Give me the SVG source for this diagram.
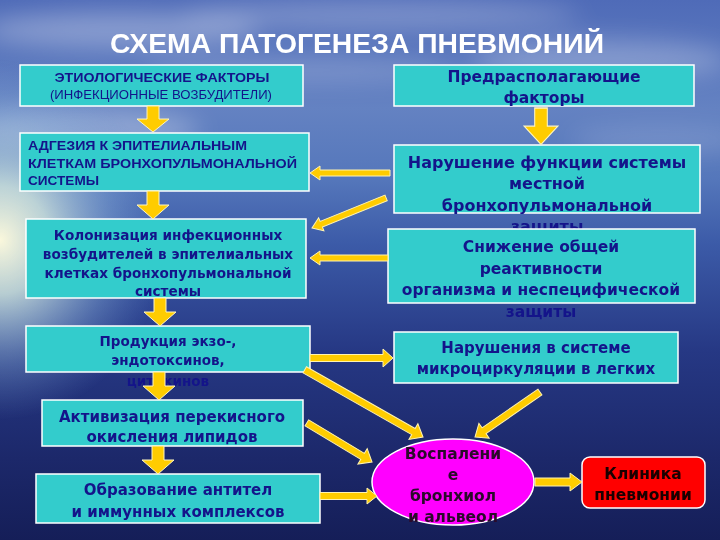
<svg xmlns="http://www.w3.org/2000/svg" width="720" height="540" viewBox="0 0 720 540">
<defs>
  <linearGradient id="bg" x1="0" y1="0" x2="0" y2="1">
    <stop offset="0" stop-color="#4f6bb8"/>
    <stop offset="0.2" stop-color="#6482c2"/>
    <stop offset="0.33" stop-color="#5577bb"/>
    <stop offset="0.45" stop-color="#3c5ba8"/>
    <stop offset="0.65" stop-color="#263884"/>
    <stop offset="0.85" stop-color="#1c286a"/>
    <stop offset="1" stop-color="#151e58"/>
  </linearGradient>
  <radialGradient id="glow" cx="0" cy="0.5" r="0.5" gradientUnits="objectBoundingBox">
    <stop offset="0" stop-color="#fbf8dc" stop-opacity="1"/>
    <stop offset="0.3" stop-color="#cfe4dc" stop-opacity="0.85"/>
    <stop offset="0.7" stop-color="#8fb4d8" stop-opacity="0.35"/>
    <stop offset="1" stop-color="#6f95cc" stop-opacity="0"/>
  </radialGradient>
  <filter id="blur" x="-50%" y="-50%" width="200%" height="200%">
    <feGaussianBlur stdDeviation="12"/>
  </filter>
  <style>
    .box{fill:#33cccc;stroke:#ffffff;stroke-width:1.5}
    .t{font-family:"DejaVu Sans","Liberation Sans",sans-serif;font-weight:bold;fill:#14148a;text-anchor:middle}
    .tl{font-family:"Liberation Sans","DejaVu Sans",sans-serif;font-weight:bold;fill:#14148a}
    .big{fill:#ffcc00;stroke:#fff6c0;stroke-width:1}
    .thin{fill:#ffcc00;stroke:#fff3b0;stroke-width:1}
  </style>
  <path id="dn" d="M-6,0 L6,0 L6,14 L16,14 L0,28 L-16,14 L-6,14 Z"/>
</defs>

<!-- background -->
<rect x="0" y="0" width="720" height="540" fill="url(#bg)"/>
<g filter="url(#blur)" fill="#ffffff">
  <ellipse cx="120" cy="30" rx="140" ry="18" opacity="0.3"/>
  <ellipse cx="380" cy="15" rx="200" ry="14" opacity="0.25"/>
  <ellipse cx="600" cy="60" rx="130" ry="20" opacity="0.25"/>
  <ellipse cx="300" cy="70" rx="160" ry="12" opacity="0.2"/>
  <ellipse cx="80" cy="130" rx="120" ry="20" opacity="0.3"/>
  <ellipse cx="660" cy="140" rx="90" ry="14" opacity="0.15"/>
</g>
<rect x="0" y="60" width="330" height="360" fill="url(#glow)"/>

<!-- title -->
<text x="357" y="53" font-family="Liberation Sans, Arial, sans-serif" font-weight="bold" font-size="27" fill="#ffffff" text-anchor="middle" textLength="494" lengthAdjust="spacingAndGlyphs">СХЕМА ПАТОГЕНЕЗА ПНЕВМОНИЙ</text>

<!-- left column -->
<g id="etiology">
  <rect class="box" x="20" y="65" width="283" height="41"/>
  <text class="tl" x="162" y="82" font-size="12" text-anchor="middle" textLength="215" lengthAdjust="spacingAndGlyphs">ЭТИОЛОГИЧЕСКИЕ ФАКТОРЫ</text>
  <text x="161" y="99" font-family="Liberation Sans, Arial, sans-serif" font-size="12" fill="#14148a" text-anchor="middle" textLength="222" lengthAdjust="spacingAndGlyphs">(ИНФЕКЦИОННЫЕ ВОЗБУДИТЕЛИ)</text>
</g>

<g id="adhesion">
  <rect class="box" x="20" y="133" width="289" height="58"/>
  <text class="tl" x="28" y="150" font-size="13" textLength="219" lengthAdjust="spacingAndGlyphs">АДГЕЗИЯ К ЭПИТЕЛИАЛЬНЫМ</text>
  <text class="tl" x="28" y="168" font-size="13" textLength="269" lengthAdjust="spacingAndGlyphs">КЛЕТКАМ БРОНХОПУЛЬМОНАЛЬНОЙ</text>
  <text class="tl" x="28" y="185" font-size="13" textLength="71" lengthAdjust="spacingAndGlyphs">СИСТЕМЫ</text>
</g>

<g id="colonization">
  <rect class="box" x="26" y="219" width="280" height="79"/>
  <text class="t" x="168" y="240" font-size="13.6">Колонизация инфекционных</text>
  <text class="t" x="168" y="259" font-size="13.6">возбудителей в эпителиальных</text>
  <text class="t" x="168" y="278" font-size="13.6">клетках бронхопульмональной</text>
  <text class="t" x="168" y="296" font-size="13.6">системы</text>
</g>

<g id="toxins">
  <rect class="box" x="26" y="326" width="284" height="46"/>
  <text class="t" x="168" y="346" font-size="13.5">Продукция экзо-,</text>
  <text class="t" x="168" y="365" font-size="13.5">эндотоксинов,</text>
  <text class="t" x="168" y="386" font-size="13.5">цитокинов</text>
</g>

<g id="peroxidation">
  <rect class="box" x="42" y="400" width="261" height="46"/>
  <text class="t" x="172" y="422" font-size="15">Активизация перекисного</text>
  <text class="t" x="172" y="442" font-size="15">окисления липидов</text>
</g>

<g id="antibodies">
  <rect class="box" x="36" y="474" width="284" height="49"/>
  <text class="t" x="178" y="495" font-size="15">Образование антител</text>
  <text class="t" x="178" y="517" font-size="15">и иммунных комплексов</text>
</g>

<!-- right column -->
<g id="predisposing">
  <rect class="box" x="394" y="65" width="300" height="41"/>
  <text class="t" x="544" y="82" font-size="15.5">Предрасполагающие</text>
  <text class="t" x="544" y="103" font-size="15.5">факторы</text>
</g>

<g id="local-defense">
  <rect class="box" x="394" y="145" width="306" height="68"/>
  <text class="t" x="547" y="168" font-size="16">Нарушение функции системы</text>
  <text class="t" x="547" y="189" font-size="16">местной</text>
  <text class="t" x="547" y="211" font-size="16">бронхопульмональной</text>
  <text class="t" x="547" y="232" font-size="16">защиты</text>
</g>

<g id="reactivity">
  <rect class="box" x="388" y="229" width="307" height="74"/>
  <text class="t" x="541" y="252" font-size="15.5">Снижение общей</text>
  <text class="t" x="541" y="274" font-size="15.5">реактивности</text>
  <text class="t" x="541" y="295" font-size="15.5">организма и неспецифической</text>
  <text class="t" x="541" y="317" font-size="15.5">защиты</text>
</g>

<g id="microcirculation">
  <rect class="box" x="394" y="332" width="284" height="51"/>
  <text class="t" x="536" y="353" font-size="15">Нарушения в системе</text>
  <text class="t" x="536" y="374" font-size="15">микроциркуляции в легких</text>
</g>

<g id="inflammation">
  <ellipse cx="453" cy="482" rx="81" ry="43" fill="#ff00ff" stroke="#ffffff" stroke-width="1.5"/>
  <text class="t" x="453" y="459" font-size="15.5" style="fill:#2a0a2a">Воспалени</text>
  <text class="t" x="453" y="480" font-size="15.5" style="fill:#2a0a2a">е</text>
  <text class="t" x="453" y="501" font-size="15.5" style="fill:#2a0a2a">бронхиол</text>
  <text class="t" x="453" y="522" font-size="15.5" style="fill:#2a0a2a">и альвеол</text>
</g>

<g id="clinic">
  <rect x="582" y="457" width="123" height="51" rx="8" ry="8" fill="#ff0000" stroke="#ffffff" stroke-width="1.5"/>
  <text class="t" x="643" y="479" font-size="15.5" style="fill:#1a0000">Клиника</text>
  <text class="t" x="643" y="500" font-size="15.5" style="fill:#1a0000">пневмонии</text>
</g>

<!-- connectors -->
<g id="connectors">
  <use href="#dn" class="big" transform="translate(153,106) scale(1,0.93)"/>
  <use href="#dn" class="big" transform="translate(153,191)"/>
  <use href="#dn" class="big" transform="translate(160,298)"/>
  <use href="#dn" class="big" transform="translate(159,372)"/>
  <use href="#dn" class="big" transform="translate(158,446)"/>
  <use href="#dn" class="big" transform="translate(541,108) scale(1.05,1.3)"/>

  <path class="thin" transform="translate(310,173) rotate(180)" d="M0,0 L-10,-7 L-10,-3 L-80,-3 L-80,3 L-10,3 L-10,7 Z"/>
  <path class="thin" transform="translate(312,228) rotate(157.9)" d="M0,0 L-10,-7 L-10,-3 L-80,-3 L-80,3 L-10,3 L-10,7 Z"/>
  <path class="thin" transform="translate(310,258) rotate(180)" d="M0,0 L-10,-7 L-10,-3 L-78,-3 L-78,3 L-10,3 L-10,7 Z"/>
  <path class="thin" transform="translate(393,358) rotate(0)" d="M0,0 L-10,-9 L-10,-3.5 L-83,-3.5 L-83,3.5 L-10,3.5 L-10,9 Z"/>
  <path class="thin" transform="translate(423,437) rotate(29.6)" d="M0,0 L-11,-9 L-11,-3.5 L-136,-3.5 L-136,3.5 L-11,3.5 L-11,9 Z"/>
  <path class="thin" transform="translate(372,462) rotate(31)" d="M0,0 L-11,-9 L-11,-3.5 L-76,-3.5 L-76,3.5 L-11,3.5 L-11,9 Z"/>
  <path class="thin" transform="translate(475,437) rotate(145.3)" d="M0,0 L-11,-9 L-11,-3.5 L-79,-3.5 L-79,3.5 L-11,3.5 L-11,9 Z"/>
  <path class="thin" transform="translate(377,496) rotate(0)" d="M0,0 L-10,-8 L-10,-3.5 L-57,-3.5 L-57,3.5 L-10,3.5 L-10,8 Z"/>
  <path class="thin" transform="translate(582,482) rotate(0)" d="M0,0 L-12,-9 L-12,-4 L-47,-4 L-47,4 L-12,4 L-12,9 Z"/>
</g>
</svg>
